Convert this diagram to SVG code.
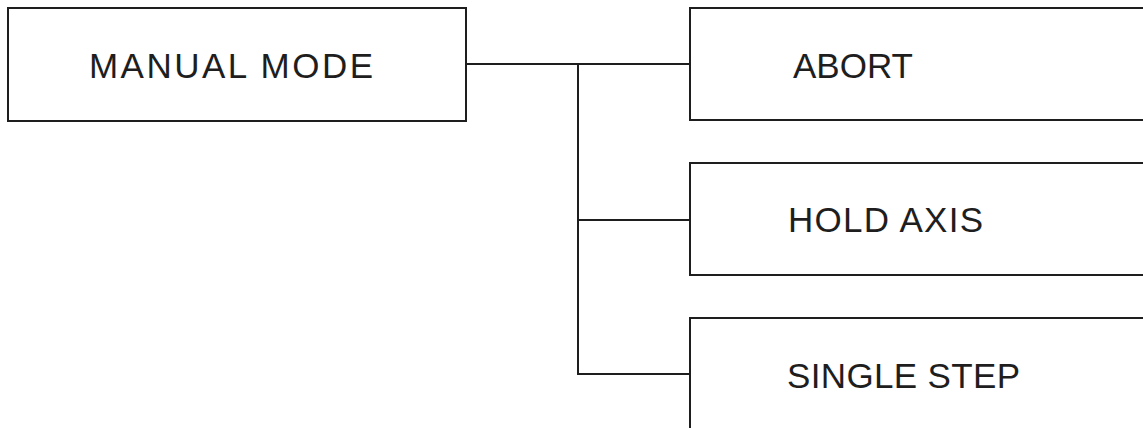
<svg xmlns="http://www.w3.org/2000/svg" width="1143" height="428" viewBox="0 0 1143 428">
<style>
.box{fill:#fff;stroke:#1e1e1e;stroke-width:2}
.lbl{font-family:"Liberation Sans",Arial,sans-serif;font-size:35px;fill:#1e1e1e}
.conn{fill:none;stroke:#1e1e1e;stroke-width:2}
</style>
<rect width="1143" height="428" fill="#fff"/>
<g id="connectors">
<path class="conn" d="M466 64 H690 M578 64 V374 H690 M578 220 H690"/>
</g>
<g id="manual-mode">
<rect class="box" x="8" y="8" width="458" height="113"/>
<text class="lbl" x="89" y="78" textLength="284" lengthAdjust="spacing">MANUAL MODE</text>
</g>
<g id="abort">
<rect class="box" x="690" y="8" width="470" height="112"/>
<text class="lbl" x="793" y="78" textLength="120" lengthAdjust="spacing">ABORT</text>
</g>
<g id="hold-axis">
<rect class="box" x="690" y="163" width="470" height="112"/>
<text class="lbl" x="788" y="232" textLength="195" lengthAdjust="spacing">HOLD AXIS</text>
</g>
<g id="single-step">
<rect class="box" x="690" y="318" width="470" height="130"/>
<text class="lbl" x="787" y="388" textLength="233" lengthAdjust="spacing">SINGLE STEP</text>
</g>
</svg>
